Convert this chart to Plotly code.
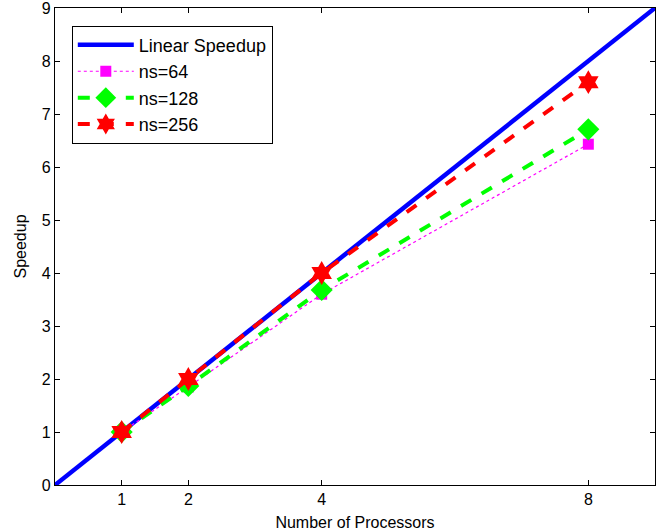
import plotly.graph_objects as go

procs = [1, 2, 4, 8]
linear_x = [0, 9]
linear_y = [0, 9]
ns64 = [1.0, 1.85, 3.60, 6.43]
ns128 = [1.0, 1.87, 3.68, 6.71]
ns256 = [1.0, 2.0, 4.0, 7.60]

fig = go.Figure()
fig.add_trace(go.Scatter(x=linear_x, y=linear_y, mode='lines', name='Linear Speedup',
                         line=dict(color='#0000ff', width=4.5)))
fig.add_trace(go.Scatter(x=procs, y=ns64, mode='lines+markers', name='ns=64',
                         line=dict(color='#ff00ff', width=1.2, dash='dot'),
                         marker=dict(symbol='square', size=11, color='#ff00ff')))
fig.add_trace(go.Scatter(x=procs, y=ns128, mode='lines+markers', name='ns=128',
                         line=dict(color='#00ff00', width=4, dash='dash'),
                         marker=dict(symbol='diamond', size=17, color='#00ff00')))
fig.add_trace(go.Scatter(x=procs, y=ns256, mode='lines+markers', name='ns=256',
                         line=dict(color='#ff0000', width=4, dash='dash'),
                         marker=dict(symbol='hexagram', size=18, color='#ff0000')))

axis_common = dict(showline=True, linecolor='black', linewidth=1.2, mirror='ticks',
                   ticks='inside', ticklen=5, tickcolor='black', showgrid=False,
                   zeroline=False, automargin=False, ticklabeloverflow='allow',
                   tickfont=dict(size=16, color='black'))
fig.update_xaxes(range=[0, 9], tickvals=procs, title=dict(text='Number of Processors', standoff=9,
                 font=dict(size=16, color='black')), **axis_common)
fig.update_yaxes(range=[0, 9], dtick=1, title=dict(text='Speedup', standoff=11,
                 font=dict(size=16, color='black')), **axis_common)
fig.update_layout(
    width=661, height=532,
    margin=dict(l=55, r=6, t=8, b=47),
    plot_bgcolor='white', paper_bgcolor='white',
    font=dict(family='Liberation Sans, Arial, sans-serif', color='black'),
    legend=dict(x=0.028, y=0.963, xanchor='left', yanchor='top',
                bordercolor='black', borderwidth=1, bgcolor='white',
                font=dict(size=18), itemwidth=56, tracegroupgap=0),
)
fig.write_html("out.html", config={'displayModeBar': False},
               post_script="document.body.style.margin='0';")
